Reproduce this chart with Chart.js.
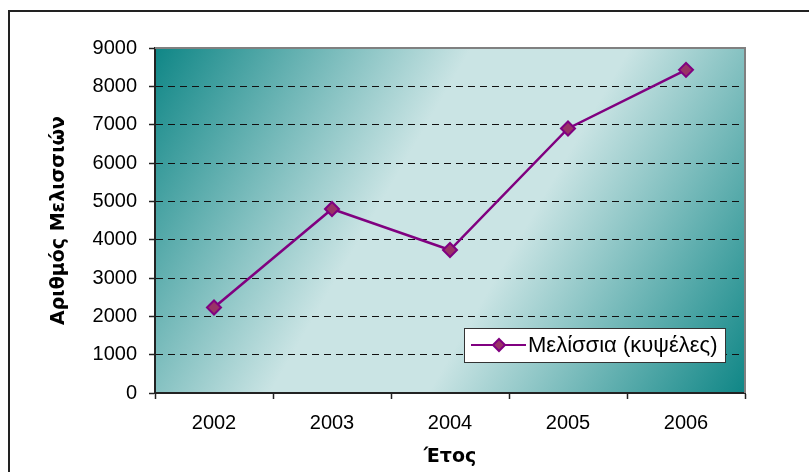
<!DOCTYPE html>
<html>
<head>
<meta charset="utf-8">
<script src="https://cdn.jsdelivr.net/npm/chart.js@4/dist/chart.umd.min.js"></script>
<style>
    html, body { margin: 0; padding: 0; background: #fff; }
    #wrap { position: relative; width: 809px; height: 472px; }
</style>
</head>
<body>
<div id="wrap"><canvas id="chart"></canvas></div>
<script>
const years = ['2002', '2003', '2004', '2005', '2006'];
const hives = [2230, 4800, 3730, 6900, 8430];
const seriesLabel = 'Μελίσσια (κυψέλες)';
const xTitle = 'Έτος';
const yTitle = 'Αριθμός Μελισσιών';
const yMin = 0;
const yMax = 9000;
const yStep = 1000;

const purple = '#800080';
const markerFill = '#993366';
const tealDark = '#0f8686';
const tealLight = '#cae4e4';

// fond dégradé + cadre
const frame = {
    id: 'frame',
    beforeDraw(chart) {
        const { ctx, chartArea: a } = chart;
        ctx.save();
        ctx.strokeStyle = '#222';
        ctx.lineWidth = 2;
        ctx.strokeRect(9, 11, 1200, 1200);
        const g = ctx.createLinearGradient(a.left, a.top, a.right, a.bottom);
        g.addColorStop(0, tealDark);
        g.addColorStop(0.4, tealLight);
        g.addColorStop(0.6, tealLight);
        g.addColorStop(1, tealDark);
        ctx.fillStyle = g;
        ctx.fillRect(a.left, a.top, a.right - a.left, a.bottom - a.top);
        ctx.restore();
    },
    beforeDatasetsDraw(chart) {
        const { ctx, chartArea: a } = chart;
        ctx.save();
        ctx.strokeStyle = '#808080';
        ctx.lineWidth = 2;
        ctx.beginPath();
        ctx.moveTo(a.left, a.top);
        ctx.lineTo(a.right, a.top);
        ctx.lineTo(a.right, a.bottom);
        ctx.stroke();
        ctx.restore();
    },
};

// légende dans la zone du graphique
const boxLegend = {
    id: 'boxLegend',
    afterDraw(chart) {
        const { ctx } = chart;
        const ds = chart.data.datasets[0];
        const x = 464, y = 328, w = 261, h = 34;
        ctx.save();
        ctx.fillStyle = '#fff';
        ctx.fillRect(x, y, w, h);
        ctx.strokeStyle = '#333';
        ctx.lineWidth = 1;
        ctx.strokeRect(x + 0.5, y + 0.5, w, h);
        const cy = y + h / 2;
        ctx.strokeStyle = ds.borderColor;
        ctx.lineWidth = 2;
        ctx.beginPath();
        ctx.moveTo(x + 7, cy);
        ctx.lineTo(x + 62, cy);
        ctx.stroke();
        const cx = x + 35, r = 6;
        ctx.beginPath();
        ctx.moveTo(cx, cy - r);
        ctx.lineTo(cx + r, cy);
        ctx.lineTo(cx, cy + r);
        ctx.lineTo(cx - r, cy);
        ctx.closePath();
        ctx.fillStyle = ds.pointBackgroundColor;
        ctx.fill();
        ctx.strokeStyle = ds.pointBorderColor;
        ctx.stroke();
        ctx.fillStyle = '#000';
        ctx.font = '22px "Liberation Sans", Arial, sans-serif';
        ctx.textBaseline = 'middle';
        ctx.fillText(ds.label, x + 64, cy + 1);
        ctx.restore();
    },
};

new Chart(document.getElementById('chart'), {
    type: 'line',
    data: {
        labels: years,
        datasets: [{
            label: seriesLabel,
            data: hives,
            borderColor: purple,
            borderWidth: 2.5,
            tension: 0,
            pointStyle: 'rectRot',
            pointRadius: 7,
            pointHoverRadius: 7,
            pointBackgroundColor: markerFill,
            pointBorderColor: purple,
            pointBorderWidth: 2,
        }],
    },
    options: {
        responsive: true,
        maintainAspectRatio: false,
        animation: false,
        layout: { padding: { top: 48, right: 64, bottom: 0, left: 0 } },
        plugins: { legend: { display: false }, tooltip: { enabled: false } },
        scales: {
            x: {
                offset: true,
                grid: { offset: true, drawOnChartArea: false, drawTicks: true, tickLength: 6, tickColor: '#222', tickWidth: 1.5 },
                border: { color: '#222', width: 2 },
                ticks: { color: '#000', padding: 12, font: { family: '"Liberation Sans", Arial, sans-serif', size: 20 } },
                title: {
                    display: true,
                    text: xTitle,
                    color: '#000',
                    padding: { top: 0, bottom: 4 },
                    font: { family: '"DejaVu Sans", sans-serif', size: 19, weight: 'bold' },
                },
                afterFit: function(scale) { scale.height = 79; },
            },
            y: {
                min: yMin,
                max: yMax,
                ticks: {
                    stepSize: yStep,
                    color: '#000',
                    padding: 12,
                    font: { family: '"Liberation Sans", Arial, sans-serif', size: 20 },
                    callback: function(v) { return String(v); },
                },
                grid: {
                    color: function(c) { return (c.tick && (c.tick.value === yMin || c.tick.value === yMax)) ? 'rgba(0,0,0,0)' : '#111'; },
                    lineWidth: 1,
                    tickLength: 6,
                    tickColor: '#222',
                    tickWidth: 1.5,
                },
                border: { color: '#222', width: 2, dash: [7, 5] },
                title: {
                    display: true,
                    text: yTitle,
                    color: '#000',
                    padding: { top: 48, bottom: 0 },
                    font: { family: '"DejaVu Sans", sans-serif', size: 19, weight: 'bold' },
                },
                afterFit: function(scale) { scale.width = 155; },
            },
        },
    },
    plugins: [frame, boxLegend],
});
</script>
</body>
</html>
